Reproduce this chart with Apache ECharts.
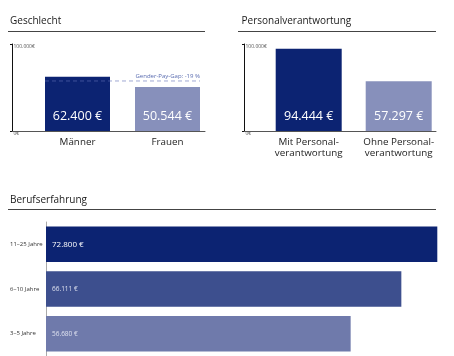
<!DOCTYPE html>
<html><head><meta charset="utf-8">
<script src="https://cdn.jsdelivr.net/npm/echarts@6/dist/echarts.min.js"></script>
<style>html,body{margin:0;padding:0;background:#fff}#c{width:454px;height:356px}</style>
</head><body><div id="c"></div>
<script>
// ---- data ----
const genderCats = ['Männer', 'Frauen'];
const genderVals = [62400, 50544];
const genderGapLevel = 57500;
const genderGapText = 'Gender-Pay-Gap: -19 %';
const respCats = ['Mit Personal-\nverantwortung', 'Ohne Personal-\nverantwortung'];
const respVals = [94444, 57297];
const expCats = ['3–5 Jahre', '6–10 Jahre', '11–25 Jahre'];
const expVals = [56680, 66111, 72800];
const yTickMax = 100000;
const titles = ['Geschlecht', 'Personalverantwortung', 'Berufserfahrung'];

const FONT = '"Open Sans", "Noto Sans", sans-serif';
const NAVY = '#0c2372', LIGHT = '#8790bb';
const expColors = ['#6f7aab', '#3d4f8e', '#0c2372'];
const fmt = v => v.toLocaleString('de-DE') + ' €';
const fmtAxis = v => v.toLocaleString('de-DE') + '€';

const chart = echarts.init(document.getElementById('c'), null, {renderer: 'canvas'});

// bar geometry helpers (bar width relative to category band)
const band = 90, barW1 = 65, barW2 = 66;
const half1 = barW1 / band / 2;

function frameAxes(gridIndex) {
  return {
    x: {type: 'value', gridIndex, min: 0, max: 1, axisLine: {show: true, lineStyle: {color: '#555', width: 1}},
        axisTick: {show: false}, axisLabel: {show: false}, splitLine: {show: false}},
    y: {type: 'value', gridIndex, min: 0, max: yTickMax, interval: yTickMax,
        axisLine: {show: true, lineStyle: {color: '#111', width: 1}},
        axisTick: {show: true, length: 2, lineStyle: {color: '#111'}},
        axisLabel: {inside: true, margin: 1.5, fontSize: 5, color: '#555', fontFamily: FONT,
                    verticalAlign: 'top', formatter: fmtAxis},
        splitLine: {show: false}}
  };
}
const f1 = frameAxes(0), f2 = frameAxes(2);

function catAxis(gridIndex, cats) {
  return {type: 'category', gridIndex, data: cats, axisLine: {show: false}, axisTick: {show: false},
    axisLabel: {fontSize: 9.8, color: '#222', fontFamily: FONT, margin: 6, lineHeight: 11, interval: 0}};
}
function hiddenY(gridIndex) {
  return {type: 'value', gridIndex, min: 0, max: yTickMax, show: false};
}
const valLabel = {show: true, position: 'insideBottom', distance: 8, color: '#fff', fontSize: 12.5,
                  fontFamily: FONT, formatter: p => fmt(p.value)};

const option = {
  animation: false,
  grid: [
    {left: 12, right: 249, top: 44, bottom: 225},
    {left: 32.5, right: 241.5, top: 44, bottom: 225},
    {left: 244, right: 18, top: 44, bottom: 225},
    {left: 263.7, right: 10.3, top: 44, bottom: 225},
    {left: 46, right: 16.7, top: 222, height: 136}
  ],
  xAxis: [
    f1.x,
    catAxis(1, genderCats),
    f2.x,
    catAxis(3, respCats),
    {type: 'value', gridIndex: 4, min: 0, max: 'dataMax', show: false},
    {type: 'value', gridIndex: 1, min: 0, max: genderCats.length, show: false}
  ],
  yAxis: [
    f1.y, hiddenY(1), f2.y, hiddenY(3),
    {type: 'category', gridIndex: 4, data: expCats,
     axisLine: {show: true, lineStyle: {color: '#aaa', width: 1}}, axisTick: {show: false},
     axisLabel: {align: 'left', margin: 36, fontSize: 6, color: '#333', fontFamily: FONT}}
  ],
  series: [
    {type: 'bar', xAxisIndex: 1, yAxisIndex: 1, barWidth: barW1,
     data: genderVals.map((v, i) => ({value: v, itemStyle: {color: i === 0 ? NAVY : LIGHT}})),
     label: valLabel},
    {type: 'line', xAxisIndex: 5, yAxisIndex: 1, z: 5, symbol: 'circle', symbolSize: 0, showSymbol: true,
     lineStyle: {color: 'rgba(96,112,184,0.6)', width: 1, type: [4, 3]},
     label: {show: false},
     data: [
       {value: [0.5 - half1, genderGapLevel]},
       {value: [genderCats.length - 0.5 + half1, genderGapLevel],
        label: {show: true, position: 'top', align: 'right', distance: 2, fontSize: 6,
                color: '#5a6cb0', fontFamily: FONT, formatter: genderGapText}}
     ]},
    {type: 'bar', xAxisIndex: 3, yAxisIndex: 3, barWidth: barW2,
     data: respVals.map((v, i) => ({value: v, itemStyle: {color: i === 0 ? NAVY : LIGHT}})),
     label: valLabel},
    {type: 'bar', xAxisIndex: 4, yAxisIndex: 4, barWidth: 35.5,
     data: expVals.map((v, i) => ({
       value: v, itemStyle: {color: expColors[i]},
       label: i === 2 ? {fontSize: 8, color: '#fff'} : {fontSize: 6.5, color: '#dde0ee'}
     })),
     label: {show: true, position: 'insideLeft', distance: 6, fontFamily: FONT, formatter: p => fmt(p.value)}}
  ],
  graphic: [
    {type: 'text', left: 10, top: 16, style: {text: titles[0], font: '10px ' + FONT, fill: '#1a1a1a'}},
    {type: 'text', left: 241.5, top: 16, style: {text: titles[1], font: '10px ' + FONT, fill: '#1a1a1a'}},
    {type: 'text', left: 10, top: 195, style: {text: titles[2], font: '10px ' + FONT, fill: '#1a1a1a'}},
    {type: 'line', shape: {x1: 8, y1: 31.5, x2: 205, y2: 31.5}, style: {stroke: '#444', lineWidth: 1}},
    {type: 'line', shape: {x1: 238, y1: 31.5, x2: 436, y2: 31.5}, style: {stroke: '#444', lineWidth: 1}},
    {type: 'line', shape: {x1: 8, y1: 209.5, x2: 436, y2: 209.5}, style: {stroke: '#444', lineWidth: 1}}
  ]
};
chart.setOption(option);
</script></body></html>
